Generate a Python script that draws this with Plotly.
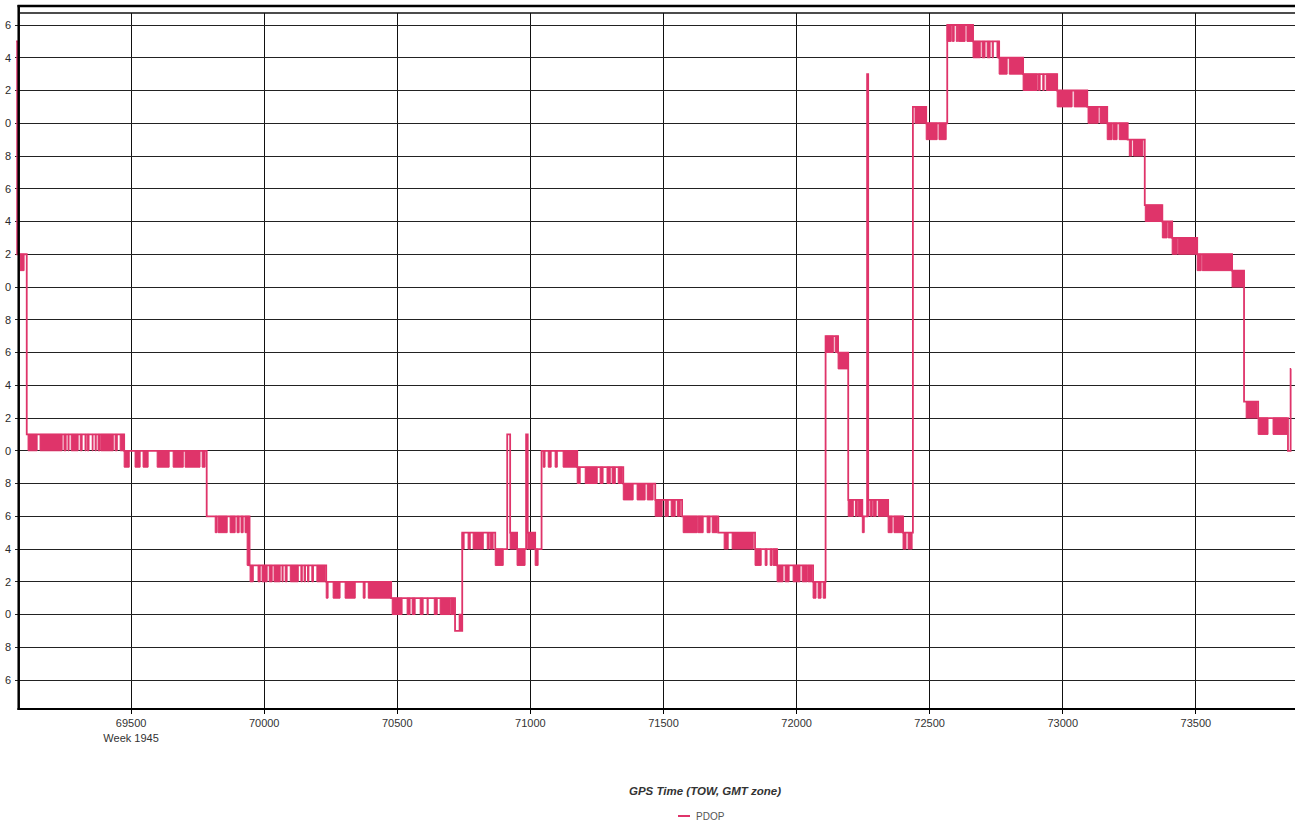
import plotly.graph_objects as go

# ---------------- data ----------------
# PDOP series summarised as runs: start TOW, level the line sits on,
# level it toggles to, and the TOW intervals where it toggles densely.
band_start = [69068, 69072, 69108, 69474, 69784, 69936, 69945, 70233, 70477, 70717,
              70734, 70738, 70744, 70868, 70913, 70924, 70950, 70984, 70990, 71018,
              71042, 71176, 71349, 71469, 71570, 71706, 71844, 71927, 72062, 72109,
              72156, 72194, 72247, 72265, 72269, 72344, 72400, 72437, 72487, 72566,
              72663, 72761, 72851, 72979, 73092, 73167, 73244, 73308, 73374, 73411,
              73505, 73636, 73681, 73734, 73846, 73856]
band_level = [5.5, 4.2, 3.1, 3.0, 2.6, 2.6, 2.3, 2.2, 2.1, 1.9,
              2.0, 1.9, 2.5, 2.4, 3.1, 2.5, 2.4, 3.1, 2.5, 2.4,
              3.0, 2.9, 2.8, 2.7, 2.6, 2.5, 2.4, 2.3, 2.2, 3.7,
              3.6, 2.7, 2.6, 5.3, 2.7, 2.6, 2.5, 5.1, 5.0, 5.6,
              5.5, 5.4, 5.3, 5.2, 5.1, 5.0, 4.9, 4.5, 4.4, 4.3,
              4.2, 4.1, 3.3, 3.2, 3.0, 3.5]
band_alt = [5.5, 4.1, 3.0, 2.9, 2.5, 2.3, 2.2, 2.1, 2.0, 1.9,
            2.0, 1.9, 2.4, 2.3, 3.1, 2.4, 2.3, 3.1, 2.4, 2.3,
            2.9, 2.8, 2.7, 2.6, 2.5, 2.4, 2.3, 2.2, 2.1, 3.6,
            3.5, 2.6, 2.5, 5.3, 2.6, 2.5, 2.4, 5.0, 4.9, 5.5,
            5.4, 5.3, 5.2, 5.1, 5.0, 4.9, 4.8, 4.4, 4.3, 4.2,
            4.1, 4.0, 3.2, 3.1, 3.0, 3.5]
band_blocks = [
    [],
    [(69083, 69098)],
    [(69113, 69147), (69158, 69241), (69248, 69256), (69263, 69267), (69275, 69301),
     (69309, 69316), (69327, 69331), (69335, 69342), (69354, 69357), (69365, 69369),
     (69376, 69384), (69387, 69433), (69440, 69448), (69459, 69474)],
    [(69474, 69493), (69515, 69534), (69545, 69564), (69598, 69643), (69658, 69696),
     (69703, 69759), (69767, 69778)],
    [(69816, 69823), (69827, 69861), (69872, 69891), (69898, 69906), (69913, 69921),
     (69928, 69936)],
    [(69936, 69945)],
    [(69947, 69959), (69977, 69985), (69992, 70011), (70019, 70030), (70037, 70060),
     (70067, 70071), (70079, 70086), (70098, 70128), (70138, 70143), (70150, 70155),
     (70163, 70168), (70179, 70185), (70198, 70229)],
    [(70233, 70240), (70259, 70285), (70304, 70342), (70372, 70379), (70391, 70477)],
    [(70481, 70518), (70537, 70548), (70556, 70567), (70586, 70597), (70612, 70616),
     (70639, 70650), (70661, 70699), (70702, 70714)],
    [],
    [],
    [],
    [(70744, 70751), (70766, 70774), (70785, 70823), (70838, 70845), (70849, 70860)],
    [(70868, 70898)],
    [],
    [(70924, 70950)],
    [(70950, 70980)],
    [],
    [(70990, 71018)],
    [(71018, 71029)],
    [(71048, 71055), (71067, 71078), (71093, 71101), (71123, 71176)],
    [(71176, 71187), (71206, 71251), (71262, 71273), (71288, 71300), (71307, 71319),
     (71330, 71345)],
    [(71349, 71386), (71401, 71431), (71439, 71461)],
    [(71469, 71495), (71506, 71518), (71529, 71544), (71552, 71563)],
    [(71574, 71627), (71630, 71649), (71664, 71675), (71683, 71702)],
    [(71728, 71743), (71758, 71837)],
    [(71844, 71867), (71882, 71889), (71901, 71908), (71912, 71927)],
    [(71927, 71949), (71957, 71972), (71987, 72013), (72021, 72040), (72043, 72058)],
    [(72062, 72073), (72081, 72092), (72100, 72109)],
    [(72109, 72138), (72145, 72156)],
    [(72156, 72194)],
    [(72194, 72213), (72221, 72228), (72232, 72247)],
    [(72247, 72254)],
    [],
    [(72269, 72272), (72277, 72284), (72288, 72299), (72307, 72344)],
    [(72344, 72359), (72366, 72400)],
    [(72400, 72411), (72419, 72434)],
    [(72445, 72487)],
    [(72487, 72528), (72535, 72562)],
    [(72566, 72581), (72585, 72592), (72600, 72605), (72608, 72633), (72640, 72663)],
    [(72663, 72690), (72697, 72708), (72716, 72727), (72735, 72739), (72753, 72761)],
    [(72761, 72791), (72799, 72851)],
    [(72851, 72904), (72909, 72915), (72925, 72930), (72938, 72979)],
    [(72979, 73035), (73043, 73092)],
    [(73095, 73133), (73140, 73167)],
    [(73167, 73185), (73189, 73204), (73212, 73242)],
    [(73250, 73259), (73266, 73301)],
    [(73310, 73374)],
    [(73374, 73392), (73396, 73411)],
    [(73411, 73430), (73434, 73505)],
    [(73505, 73520), (73524, 73636)],
    [(73636, 73681)],
    [(73689, 73730)],
    [(73734, 73771), (73790, 73843)],
    [],
    [],
]
series_end = 73858

x_tickvals = [69500, 70000, 70500, 71000, 71500, 72000, 72500, 73000, 73500]
x_ticktext = ["69500<br>Week 1945", "70000", "70500", "71000", "71500",
              "72000", "72500", "73000", "73500"]
y_tickvals = [1.6, 1.8, 2.0, 2.2, 2.4, 2.6, 2.8, 3.0, 3.2, 3.4, 3.6,
              3.8, 4.0, 4.2, 4.4, 4.6, 4.8, 5.0, 5.2, 5.4, 5.6]
# only the last digit of each label is visible in the (cropped) reference
y_ticktext = [f"{v:.1f}"[-1] for v in y_tickvals]

series_name = "PDOP"
x_title = "GPS Time (TOW, GMT zone)"

# ---------------- figure ----------------
COLOR = "#DF346A"
W, H = 1295, 824
ML, MR, MT, MB = 15, 0, 13, 115
PW, PH = W - ML - MR, H - MT - MB


def px_x(p):
    return (p - ML) / PW


def px_y(p):
    return (H - MB - p) / PH


line_x = band_start + [series_end]
line_y = band_level + [band_level[-1]]

blk_x, blk_y = [], []
for lvl, alt, blocks in zip(band_level, band_alt, band_blocks):
    lo, hi = min(lvl, alt), max(lvl, alt)
    for s, e in blocks:
        blk_x += [s, s, e, e, s, None]
        blk_y += [lo, hi, hi, lo, lo, None]

fig = go.Figure()
fig.add_trace(go.Scatter(
    x=blk_x, y=blk_y, mode="lines", fill="toself", fillcolor=COLOR,
    line=dict(color=COLOR, width=1), hoverinfo="skip", showlegend=False))
fig.add_trace(go.Scatter(
    x=line_x, y=line_y, mode="lines", name=series_name,
    line=dict(color=COLOR, width=1.8, shape="hv"), showlegend=False))

font_family = "Liberation Sans, Arial, sans-serif"

fig.update_layout(
    width=W, height=H,
    margin=dict(l=ML, r=MR, t=MT, b=MB, pad=0),
    paper_bgcolor="white", plot_bgcolor="white",
    font=dict(family=font_family, size=11, color="#333333"),
    xaxis=dict(range=[69063.9, 73872.4], tickvals=x_tickvals, ticktext=x_ticktext,
               showgrid=True, gridcolor="#111111", gridwidth=1,
               ticks="outside", ticklen=4, tickcolor="#000000",
               showline=False, zeroline=False,
               tickfont=dict(size=11, color="#333333")),
    yaxis=dict(range=[1.4232, 5.6733], tickvals=y_tickvals, ticktext=y_ticktext,
               showgrid=True, gridcolor="#222222", gridwidth=1,
               ticks="", showline=False, zeroline=False, ticklabelstandoff=3,
               tickfont=dict(size=11, color="#2a2a2a")),
    showlegend=False,
)

shapes = [
    # left axis
    dict(type="line", xref="paper", yref="paper", x0=px_x(18.7), x1=px_x(18.7),
         y0=px_y(710), y1=px_y(5), line=dict(color="black", width=2.5)),
    # outer top border
    dict(type="line", xref="paper", yref="paper", x0=px_x(17.5), x1=1.0,
         y0=px_y(6), y1=px_y(6), line=dict(color="black", width=2.5)),
    # plot top border
    dict(type="line", xref="paper", yref="paper", x0=px_x(20), x1=1.0,
         y0=px_y(13), y1=px_y(13), line=dict(color="#111111", width=1.5)),
    # bottom axis
    dict(type="line", xref="paper", yref="paper", x0=px_x(17.5), x1=1.0,
         y0=px_y(709), y1=px_y(709), line=dict(color="black", width=2)),
    # legend symbol
    dict(type="line", xref="paper", yref="paper", x0=px_x(678), x1=px_x(690),
         y0=px_y(816), y1=px_y(816), line=dict(color=COLOR, width=2)),
]
fig.update_layout(shapes=shapes)

fig.add_annotation(x=px_x(705), y=px_y(791), xref="paper", yref="paper",
                   text=f"<b><i>{x_title}</i></b>", showarrow=False,
                   xanchor="center", yanchor="middle",
                   font=dict(family=font_family, size=11.5, color="#333333"))
fig.add_annotation(x=px_x(694), y=px_y(816), xref="paper", yref="paper",
                   text=series_name, showarrow=False,
                   xanchor="left", yanchor="middle",
                   font=dict(family=font_family, size=10, color="#555555"))

fig.write_html(
    "out.html",
    config={"displayModeBar": False},
    post_script="document.body.style.margin='0';document.body.style.overflow='hidden';",
)
